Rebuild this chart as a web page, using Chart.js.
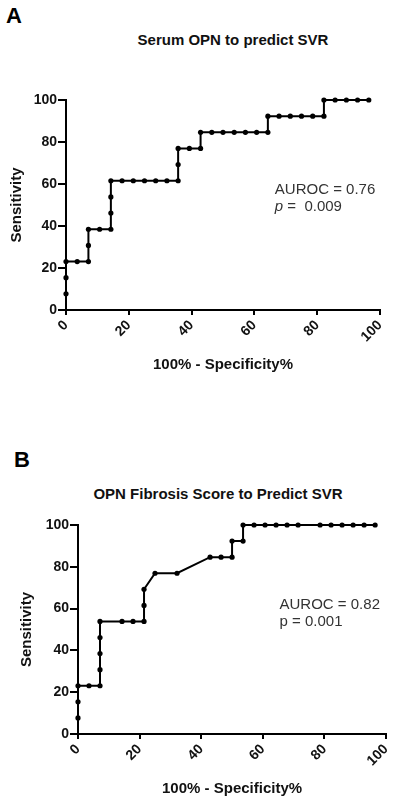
<!DOCTYPE html>
<html lang="en">
<head>
<meta charset="UTF-8">
<title>ROC curves</title>
<script src="https://cdn.jsdelivr.net/npm/chart.js"></script>
<style>
  body { margin: 0; width: 400px; height: 802px; position: relative; background: #fff; overflow: hidden;
         font-family: "Liberation Sans", Arial, sans-serif; }
  .panel { position: absolute; font-weight: bold; font-size: 22px; line-height: 22px; color: #000; }
  .title { position: absolute; font-weight: bold; font-size: 15px; line-height: 15px; color: #111;
           white-space: nowrap; transform: translateX(-50%); }
  canvas { position: absolute; left: 0; }
</style>
</head>
<body>
<div class="panel" style="left:6px;top:5px">A</div>
<div class="title" style="left:233px;top:32px">Serum OPN to predict SVR</div>
<canvas id="rocA" width="400" height="400" style="top:0"></canvas>

<div class="panel" style="left:14px;top:449px">B</div>
<div class="title" style="left:218px;top:486px">OPN Fibrosis Score to Predict SVR</div>
<canvas id="rocB" width="400" height="402" style="top:400px"></canvas>

<script>
// axis ticks (same for both panels)
const tickValues = [0, 20, 40, 60, 80, 100];

// panel A: serum OPN, 100% - specificity% vs sensitivity%
const fprA = [0, 0, 0, 3.57, 7.14, 7.14, 7.14, 10.71, 14.29, 14.29, 14.29, 14.29, 17.86, 21.43, 25, 28.57, 32.14,
              35.71, 35.71, 35.71, 39.29, 42.86, 42.86, 46.43, 50, 53.57, 57.14, 60.71, 64.29, 64.29, 67.86, 71.43,
              75, 78.57, 82.14, 82.14, 85.71, 89.29, 92.86, 96.43];
const sensA = [7.69, 15.38, 23.08, 23.08, 23.08, 30.77, 38.46, 38.46, 38.46, 46.15, 53.85, 61.54, 61.54, 61.54,
               61.54, 61.54, 61.54, 61.54, 69.23, 76.92, 76.92, 76.92, 84.62, 84.62, 84.62, 84.62, 84.62, 84.62,
               84.62, 92.31, 92.31, 92.31, 92.31, 92.31, 92.31, 100, 100, 100, 100, 100];

// panel B: OPN fibrosis score
const fprB = [0, 0, 0, 3.57, 7.14, 7.14, 7.14, 7.14, 7.14, 14.29, 17.86, 21.43, 21.43, 21.43, 25, 32.14, 42.86,
              46.43, 50, 50, 53.57, 53.57, 57.14, 60.71, 64.29, 67.86, 71.43, 78.57, 82.14, 85.71, 89.29, 92.86, 96.43];
const sensB = [7.69, 15.38, 23.08, 23.08, 23.08, 30.77, 38.46, 46.15, 53.85, 53.85, 53.85, 53.85, 61.54, 69.23,
               76.92, 76.92, 84.62, 84.62, 84.62, 92.31, 92.31, 100, 100, 100, 100, 100, 100, 100, 100, 100, 100,
               100, 100];

const noteA = [[{t: 'AUROC = 0.76'}], [{t: 'p', italic: true}, {t: ' =  0.009'}]];
const noteB = [[{t: 'AUROC = 0.82'}], [{t: 'p = 0.001'}]];

// writes the AUROC / p text inside the plot
const notePlugin = {
  id: 'note',
  afterDraw(chart, args, opts) {
    if (!opts.lines) return;
    const ctx = chart.ctx;
    const xs = chart.scales.x, ys = chart.scales.y;
    let px = xs.getPixelForValue(opts.x);
    ctx.save();
    ctx.fillStyle = '#333';
    ctx.textBaseline = 'middle';
    ctx.textAlign = 'left';
    opts.lines.forEach((line, i) => {
      let cx = px;
      const cy = ys.getPixelForValue(opts.y[i]);
      line.forEach(seg => {
        ctx.font = (seg.italic ? 'italic ' : '') + '15px "Liberation Sans", Arial, sans-serif';
        ctx.fillText(seg.t, cx, cy);
        cx += ctx.measureText(seg.t).width;
      });
    });
    ctx.restore();
  }
};

function makeRoc(id, fpr, sens, box, note) {
  const points = fpr.map((v, i) => ({x: v, y: sens[i]}));
  const axisFont = {family: '"Liberation Sans", Arial, sans-serif', size: 14, weight: 'bold'};
  const titleFont = {family: '"Liberation Sans", Arial, sans-serif', size: 15, weight: 'bold'};
  return new Chart(document.getElementById(id), {
    type: 'scatter',
    data: {
      datasets: [{
        data: points,
        showLine: true,
        borderColor: '#000',
        borderWidth: 2,
        tension: 0,
        pointRadius: 2.6,
        pointBackgroundColor: '#000',
        pointBorderWidth: 0,
        clip: false
      }]
    },
    options: {
      responsive: false,
      animation: false,
      layout: {padding: box.padding},
      plugins: {
        legend: {display: false},
        tooltip: {enabled: false},
        note: note
      },
      scales: {
        x: {
          type: 'linear', min: 0, max: 100,
          afterBuildTicks: s => { s.ticks = tickValues.map(v => ({value: v})); },
          afterFit: s => { s.height = box.xHeight; },
          border: {color: '#000', width: 2},
          grid: {drawOnChartArea: false, color: '#000', lineWidth: 2, tickLength: 5},
          ticks: {font: axisFont, color: '#111', minRotation: 45, maxRotation: 45, padding: 2},
          title: {display: true, text: '100% - Specificity%', font: titleFont, color: '#111', padding: {top: 0, bottom: 0}}
        },
        y: {
          type: 'linear', min: 0, max: 100,
          afterBuildTicks: s => { s.ticks = tickValues.map(v => ({value: v})); },
          afterFit: s => { s.width = box.yWidth; },
          border: {color: '#000', width: 2},
          grid: {drawOnChartArea: false, color: '#000', lineWidth: 2, tickLength: 8},
          ticks: {font: axisFont, color: '#111', padding: 1},
          title: {display: true, text: 'Sensitivity', font: titleFont, color: '#111', padding: {top: 0, bottom: 0}}
        }
      }
    },
    plugins: [notePlugin]
  });
}

makeRoc('rocA', fprA, sensA,
  {padding: {left: 8, right: 20, top: 100, bottom: 26}, yWidth: 58, xHeight: 64},
  {lines: noteA, x: 66.5, y: [57.2, 49]});

makeRoc('rocB', fprB, sensB,
  {padding: {left: 18, right: 8, top: 125, bottom: 4}, yWidth: 60, xHeight: 64},
  {lines: noteB, x: 65.4, y: [61.8, 53.6]});
</script>
</body>
</html>
